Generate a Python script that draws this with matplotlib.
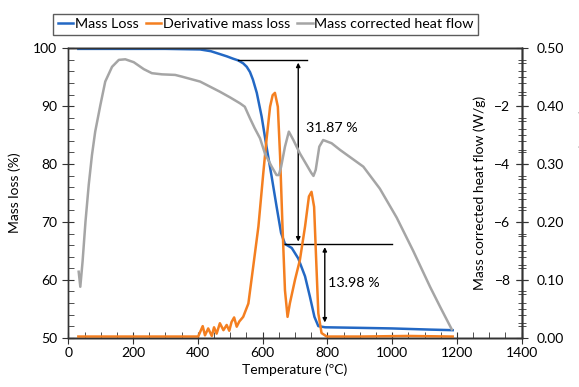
import matplotlib
matplotlib.use("Agg")
import matplotlib.pyplot as plt
from matplotlib.ticker import MultipleLocator, FixedLocator, FormatStrFormatter

plt.rcParams['font.family'] = ['Lato', 'DejaVu Sans']

# Mass loss (%)
mass_T = [31, 150, 300, 407, 440, 468, 490, 509, 525, 540, 551, 561, 570, 582, 597, 612, 628, 643, 657, 669, 690, 710, 731, 746, 760, 772, 793, 900, 1000, 1117, 1187]
mass_v = [99.9, 99.9, 99.9, 99.8, 99.5, 99.0, 98.6, 98.2, 97.9, 97.4, 96.8, 95.9, 94.6, 92.3, 88.2, 83.0, 77.8, 72.7, 68.1, 66.2, 65.5, 63.7, 60.6, 57.1, 53.6, 52.0, 51.8, 51.7, 51.6, 51.4, 51.3]

# Derivative mass loss (%/°C)
der_T = [31, 200, 401, 415, 422, 432, 443, 450, 458, 468, 479, 489, 497, 504, 512, 520, 528, 540, 556, 571, 587, 602, 612, 623, 631, 638, 647, 654, 661, 669, 677, 684, 700, 715, 731, 743, 751, 759, 765, 772, 782, 798, 900, 1050, 1187]
der_v = [0.002, 0.002, 0.002, 0.020, 0.004, 0.016, 0.003, 0.018, 0.007, 0.025, 0.013, 0.022, 0.012, 0.027, 0.035, 0.019, 0.028, 0.036, 0.059, 0.123, 0.192, 0.284, 0.342, 0.399, 0.419, 0.423, 0.399, 0.313, 0.198, 0.082, 0.036, 0.059, 0.100, 0.134, 0.192, 0.244, 0.252, 0.226, 0.140, 0.042, 0.008, 0.002, 0.002, 0.003, 0.002]

# Mass corrected heat flow (W/g)
hf_T = [32, 37, 44, 53, 63, 73, 83, 99, 114, 135, 156, 176, 202, 233, 258, 289, 330, 351, 407, 468, 500, 530, 545, 561, 575, 592, 607, 628, 643, 650, 657, 669, 681, 695, 715, 736, 750, 757, 764, 775, 787, 813, 839, 911, 962, 1014, 1065, 1117, 1148, 1184]
hf_v = [-7.72, -8.24, -7.37, -5.99, -4.72, -3.69, -2.88, -1.96, -1.15, -0.64, -0.40, -0.38, -0.48, -0.72, -0.86, -0.90, -0.92, -0.98, -1.15, -1.50, -1.70, -1.90, -2.02, -2.42, -2.75, -3.11, -3.63, -4.09, -4.38, -4.38, -4.10, -3.40, -2.88, -3.17, -3.63, -4.03, -4.30, -4.41, -4.20, -3.40, -3.17, -3.28, -3.51, -4.09, -4.85, -5.85, -7.00, -8.24, -8.93, -9.71]

step_top, step_mid, step_bot = 98.0, 66.13, 52.15
step1_label, step2_label = "31.87 %", "13.98 %"

BLUE = "#2368c4"
ORANGE = "#f47f20"
GRAY = "#a5a5a5"
FS = 10

fig = plt.figure(figsize=(5.79, 3.87), dpi=100)
ax = fig.add_axes([0.118, 0.1274, 0.783, 0.7478])
ax2 = ax.twinx()
ax3 = ax.twinx()

l1, = ax.plot(mass_T, mass_v, color=BLUE, lw=1.8, label="Mass Loss", zorder=3)
l2, = ax2.plot(der_T, der_v, color=ORANGE, lw=1.8, label="Derivative mass loss", zorder=3)
l3, = ax3.plot(hf_T, hf_v, color=GRAY, lw=1.8, label="Mass corrected heat flow", zorder=3)
for l in (l1, l2, l3):
    l.set_solid_joinstyle('round')

ax.set_xlim(0, 1400)
ax.set_ylim(50, 100)
ax2.set_ylim(0, 0.5)
ax3.set_ylim(-10, 0)

for a in (ax, ax2, ax3):
    for s in a.spines.values():
        s.set_color("#333333")
        s.set_linewidth(1.0)

ax.xaxis.set_major_locator(MultipleLocator(200))
ax.xaxis.set_minor_locator(MultipleLocator(50))
ax.yaxis.set_major_locator(MultipleLocator(10))
ax.yaxis.set_minor_locator(MultipleLocator(2))
ax.tick_params(axis='x', which='major', direction='inout', length=8, labelsize=FS, color="#333333", pad=3)
ax.tick_params(axis='x', which='minor', direction='in', length=4, color="#333333")
ax.tick_params(axis='y', which='major', direction='inout', length=8, labelsize=FS, color="#333333", pad=4)
ax.tick_params(axis='y', which='minor', direction='in', length=4, color="#333333")
ax.set_xlabel("Temperature (ºC)", fontsize=FS, labelpad=3)
ax.set_ylabel("Mass loss (%)", fontsize=FS, labelpad=9)

ax2.yaxis.set_major_locator(MultipleLocator(0.1))
ax2.yaxis.set_minor_locator(MultipleLocator(0.02))
ax2.yaxis.set_major_formatter(FormatStrFormatter('%.2f'))
ax2.tick_params(axis='y', which='major', direction='inout', length=8, labelsize=FS, color="#333333", pad=7)
ax2.tick_params(axis='y', which='minor', direction='inout', length=6, color="#333333")
ax2.set_ylabel("Derivative mass loss (%/ºC)", fontsize=FS, labelpad=11)

ax3.spines['left'].set_position(('axes', 1.0))
ax3.yaxis.set_ticks_position('left')
ax3.yaxis.set_label_position('left')
ax3.yaxis.set_major_locator(FixedLocator([-8, -6, -4, -2]))
ax3.yaxis.set_minor_locator(MultipleLocator(0.5))
ax3.tick_params(axis='y', which='major', direction='inout', length=8, labelsize=FS, color="#333333", pad=4)
ax3.tick_params(axis='y', which='minor', direction='inout', length=6, color="#333333")
ax3.set_ylabel("Mass corrected heat flow (W/g)", fontsize=FS, labelpad=6)

# annotations (on mass axis)
ax.plot([525, 736], [step_top, step_top], color="black", lw=1.0, zorder=4)
ax.plot([664, 998], [step_mid, step_mid], color="black", lw=1.0, zorder=4)
ax.annotate("", xy=(710, step_mid), xytext=(710, step_top),
            arrowprops=dict(arrowstyle="<|-|>", color="black", lw=1.0, mutation_scale=6), zorder=5)
ax.annotate("", xy=(792, step_bot), xytext=(792, step_mid),
            arrowprops=dict(arrowstyle="<|-|>", color="black", lw=1.0, mutation_scale=6), zorder=5)
ax.text(735, 86.3, step1_label, fontsize=FS + 0.3, va='center', ha='left')
ax.text(802, 59.4, step2_label, fontsize=FS + 0.3, va='center', ha='left')

leg = fig.legend(handles=[l1, l2, l3], loc='center', bbox_to_anchor=(0.459, 0.937), ncol=3,
                 fontsize=FS + 0.3, frameon=True, fancybox=False, edgecolor="#333333",
                 handlelength=1.1, handletextpad=0.1, columnspacing=0.5, borderpad=0.3,
                 borderaxespad=0)
leg.get_frame().set_linewidth(1.0)

fig.savefig("out.png", dpi=100)
